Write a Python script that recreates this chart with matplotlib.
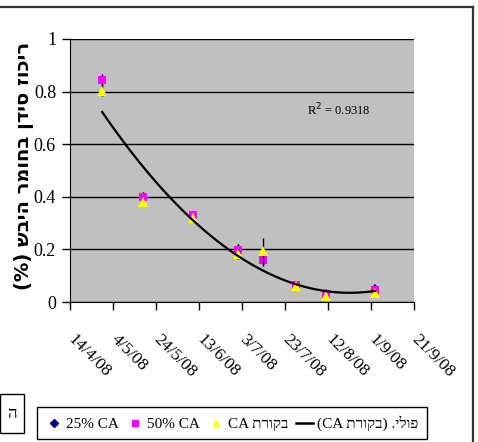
import datetime as dt
import numpy as np
import matplotlib
matplotlib.use("Agg")
import matplotlib.pyplot as plt
from matplotlib.patches import Rectangle
from matplotlib.lines import Line2D

# sampling dates and measured values
dates = ["29/4/08", "18/5/08", "10/6/08", "1/7/08", "13/7/08", "28/7/08", "11/8/08", "3/9/08"]
ca25 = [0.84, 0.40, 0.33, 0.20, 0.16, 0.06, 0.035, 0.055]
ca25_err = [0.02, 0.02, 0.01, 0.02, 0.02, 0.005, 0.005, 0.005]
ca50 = [0.843, 0.398, 0.332, 0.199, 0.158, 0.064, 0.032, 0.044]
ca50_err = [0.022, 0.02, 0.008, 0.02, 0.02, 0.005, 0.005, 0.005]
control = [0.803, 0.38, 0.319, 0.183, 0.195, 0.06, 0.021, 0.034]
control_err = [0.018, 0.016, 0.01, 0.02, 0.05, 0.005, 0.005, 0.005]

tick_dates = ["14/4/08", "4/5/08", "24/5/08", "13/6/08", "3/7/08",
              "23/7/08", "12/8/08", "1/9/08", "21/9/08"]
r2_text = "R$^2$ = 0.9318"
ylabel_text = "ריכוז סידן בחומר היבש (%)"
names = ["25% CA", "50% CA", "בקורת CA", "פולי. (בקורת CA)"]


def to_date(s):
    return dt.datetime.strptime(s, "%d/%m/%y")


def visual(s):
    # matplotlib has no bidi support: put a right-to-left string in display order
    if s.isascii():
        return s
    out = s[::-1]
    runs = []
    cur = ""
    for ch in out:
        if ch.isascii() and (ch.isalnum() or ch == "%"):
            cur += ch
        else:
            if cur:
                runs.append(cur[::-1])
                cur = ""
            runs.append(ch)
    if cur:
        runs.append(cur[::-1])
    out = "".join(runs)
    return out.translate(str.maketrans("()", ")("))


x = [to_date(d) for d in dates]
xt = [to_date(d) for d in tick_dates]

fig = plt.figure(figsize=(4.78, 4.42), dpi=100)
ax = fig.add_axes([0.1464, 0.3167, 0.7197, 0.5951])
ax.set_facecolor("#c0c0c0")

serif = ["Liberation Serif", "DejaVu Sans"]

ekw = dict(ecolor="black", elinewidth=1, capsize=2.5, capthick=1, linestyle="none")
ax.errorbar(x, ca25, yerr=ca25_err, marker="D", markersize=4, color="#000080",
            markeredgewidth=0, **ekw, zorder=3)
ax.errorbar(x, ca50, yerr=ca50_err, marker="s", markersize=6, color="#ff00ff",
            markeredgewidth=0, **ekw, zorder=4)
ax.errorbar(x, control, yerr=control_err, marker="^", markersize=7, color="#ffff00",
            markeredgewidth=0, **ekw, zorder=5)

# 2nd order polynomial trend of the control series
days = np.array([(d - xt[0]).days for d in x], dtype=float)
coef = np.polyfit(days, control, 2)
dd = np.linspace(days[0], days[-1], 100)
ax.plot([xt[0] + dt.timedelta(days=float(v)) for v in dd], np.polyval(coef, dd),
        color="black", linewidth=1.6, zorder=6)

ax.set_xlim(xt[0], xt[-1])
ax.set_ylim(0, 1)
ax.set_yticks([0, 0.2, 0.4, 0.6, 0.8, 1])
ax.set_yticklabels(["0", "0.2", "0.4", "0.6", "0.8", "1"], fontfamily=serif, fontsize=13)
ax.set_xticks(xt)
ax.set_xticklabels(tick_dates, rotation=-45, ha="left", va="center",
                   rotation_mode="anchor", fontfamily=serif, fontsize=12.5)
ax.tick_params(axis="x", direction="out", length=6, width=1, pad=19)
ax.tick_params(axis="y", direction="out", length=6, width=1, pad=4)
ax.grid(axis="y", color="black", linewidth=1)
ax.set_axisbelow(True)
for side in ["top", "right"]:
    ax.spines[side].set_visible(False)
ax.spines["left"].set_color("black")
ax.spines["bottom"].set_color("black")

ax.text(0.69, 0.73, r2_text, transform=ax.transAxes, va="center",
        fontfamily=serif, fontsize=9)

fig.text(0.05, 0.625, visual(ylabel_text), rotation=90, ha="center", va="center",
         fontsize=14, fontweight="bold", family=["DejaVu Sans"])

handles = [
    Line2D([], [], marker="D", color="#000080", linestyle="none", markersize=4),
    Line2D([], [], marker="s", color="#ff00ff", linestyle="none", markersize=5),
    Line2D([], [], marker="^", color="#ffff00", linestyle="none", markersize=5),
    Line2D([], [], color="black", linewidth=1.8),
]
leg = fig.legend(handles, [visual(n) for n in names],
                 loc="upper left", bbox_to_anchor=(37 / 478, 1 - 407 / 442),
                 ncol=4, frameon=True, fancybox=False, edgecolor="black",
                 framealpha=1, handlelength=1.1, handletextpad=0.25, columnspacing=0.5,
                 borderpad=0.55, borderaxespad=0, prop={"family": serif, "size": 11})
leg.get_frame().set_linewidth(1)

# clipped text box at the lower left and the outer frame
fig.add_artist(Rectangle((0, 1 - 433 / 442), 24 / 478, 39 / 442, transform=fig.transFigure,
                         facecolor="white", edgecolor="black", linewidth=1))
fig.text(12 / 478, 1 - 414 / 442, "ה", ha="center", va="center", fontsize=12,
         family=serif)
fig.add_artist(Line2D([0, 473 / 478], [1 - 7 / 442] * 2, transform=fig.transFigure,
                      color="#333333", linewidth=1.6))
fig.add_artist(Line2D([473 / 478] * 2, [0, 1 - 7 / 442], transform=fig.transFigure,
                      color="#333333", linewidth=1.6))

fig.savefig("out.png", dpi=100)
